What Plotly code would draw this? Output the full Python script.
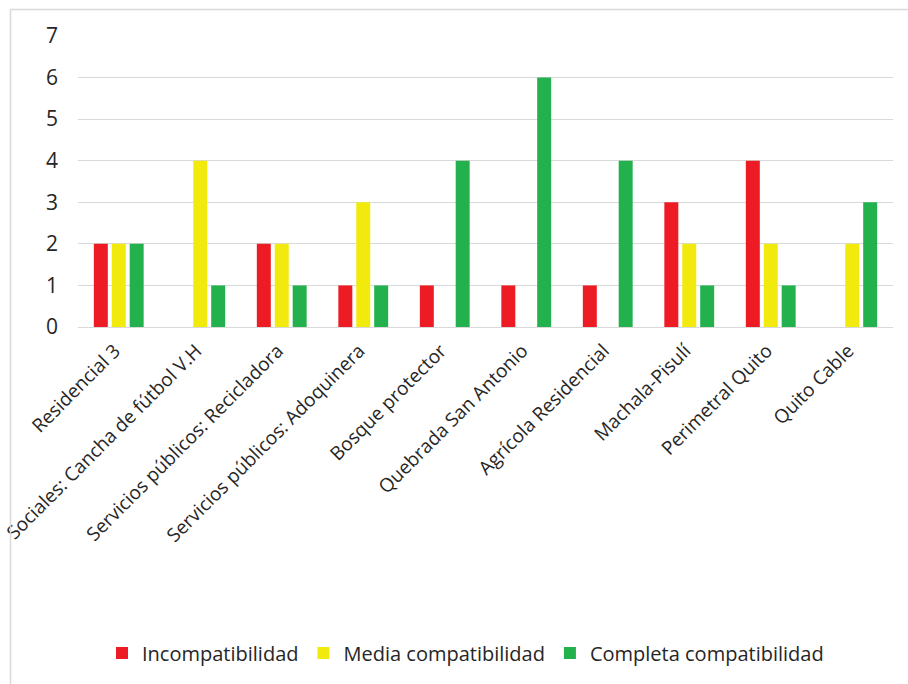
import plotly.graph_objects as go

# Zones evaluated and number of compatibility findings per level
categorias = [
    "Residencial 3",
    "Sociales: Cancha de fútbol V.H",
    "Servicios públicos: Recicladora",
    "Servicios públicos: Adoquinera",
    "Bosque protector",
    "Quebrada San Antonio",
    "Agrícola Residencial",
    "Machala-Pisulí",
    "Perimetral Quito",
    "Quito Cable",
]
incompatibilidad = [2, 0, 2, 1, 1, 1, 1, 3, 4, 0]
media_compatibilidad = [2, 4, 2, 3, 0, 0, 0, 2, 2, 2]
completa_compatibilidad = [2, 1, 1, 1, 4, 6, 4, 1, 1, 3]

series = [
    ("Incompatibilidad", incompatibilidad, "#ED1C24"),
    ("Media compatibilidad", media_compatibilidad, "#F2EA0D"),
    ("Completa compatibilidad", completa_compatibilidad, "#22B14C"),
]

FONT = "Open Sans"
TEXT = "#262626"

fig = go.Figure()
for nombre, valores, color in series:
    fig.add_trace(go.Bar(
        name=nombre, x=categorias, y=valores,
        marker=dict(color=color, line=dict(width=0)),
    ))

# Pixel geometry of the plot area inside the 908x684 page
W, H = 908, 684
L, R, T, B = 78, 15, 36, 357
pw, ph = W - L - R, H - T - B

def px_x(p):
    return (p - L) / pw

def px_y(p):
    return (H - B - p) / ph

fig.update_layout(
    width=W, height=H,
    margin=dict(l=L, r=R, t=T, b=B, autoexpand=False),
    paper_bgcolor="white", plot_bgcolor="white",
    barmode="group", bargap=0.34, bargroupgap=0.22,
    font=dict(family=FONT, size=19, color=TEXT),
    showlegend=True,
    legend=dict(
        orientation="h", x=px_x(102), xanchor="left",
        y=px_y(653), yanchor="middle",
        font=dict(family=FONT, size=20, color=TEXT),
        itemwidth=30, tracegroupgap=0,
    ),
    xaxis=dict(
        tickangle=-45, showgrid=False, showline=False, ticks="",
        ticklabelstandoff=8, ticklabelshift=-4,
        tickfont=dict(family=FONT, size=19, color=TEXT),
    ),
    yaxis=dict(
        range=[0, 7], dtick=1, showgrid=True, gridcolor="#D9D9D9",
        gridwidth=1.3, zeroline=True, zerolinecolor="#D9D9D9",
        zerolinewidth=1.3, showline=False, ticks="",
        ticklabelstandoff=19,
        tickfont=dict(family=FONT, size=21, color=TEXT),
    ),
    shapes=[
        # outer chart frame
        dict(type="rect", xref="paper", yref="paper", layer="above",
             x0=px_x(10.5), x1=px_x(930), y0=px_y(9.5), y1=px_y(720),
             fillcolor="rgba(0,0,0,0)", line=dict(color="#D9D9D9", width=1.5)),
    ],
)

fig.write_html("out.html")
